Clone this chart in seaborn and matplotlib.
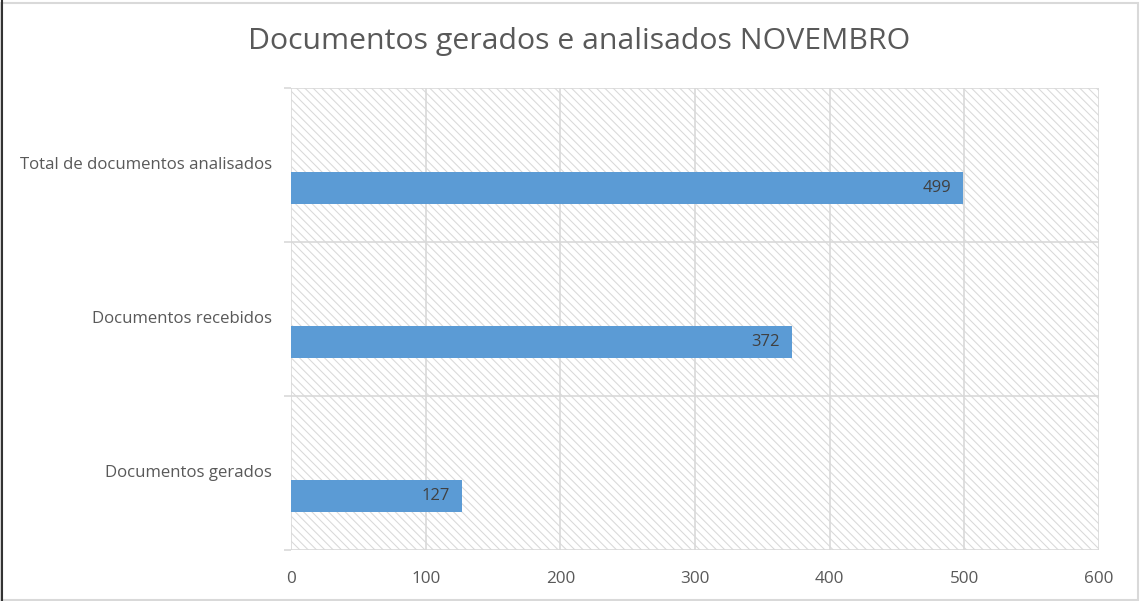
import matplotlib
matplotlib.use("Agg")
import matplotlib.pyplot as plt
import seaborn as sns
import pandas as pd
from matplotlib.patches import Rectangle
from matplotlib.lines import Line2D

categories = ["Total de documentos analisados", "Documentos recebidos", "Documentos gerados"]
values = [499, 372, 127]
xticks = [0, 100, 200, 300, 400, 500, 600]
title = "Documentos gerados e analisados NOVEMBRO"

sns.set_theme(style="white")
plt.rcParams['font.family'] = ['Open Sans', 'DejaVu Sans']
plt.rcParams['hatch.color'] = '#d9d9d9'
plt.rcParams['hatch.linewidth'] = 0.75

df = pd.DataFrame({"cat": categories, "val": values})

fig = plt.figure(figsize=(11.41, 6.01), dpi=100)
ax = fig.add_axes([291/1141, 1-550/601, (1099-291)/1141, (550-88)/601])

sns.barplot(data=df, y="cat", x="val", orient="h", color="#5B9BD5",
            width=0.21, saturation=1, ax=ax, zorder=3, edgecolor="none")

off = 0.15
ax.set_ylim(len(categories) - 1 - off + 0.5, -off - 0.5)
ax.set_xlim(0, 600)
ax.set_xticks(xticks)
ax.set_xticklabels([str(t) for t in xticks])
ax.set_yticks([i - off - 0.01 for i in range(len(categories))])
ax.set_yticklabels(categories)
ax.set_yticks([i - off + 0.5 for i in range(-1, len(categories))], minor=True)
ax.tick_params(axis='y', which='major', length=0, pad=13.5, labelsize=12.1, labelcolor='#595959')
ax.tick_params(axis='y', which='minor', length=5, width=1.2, color='#d9d9d9', left=True)
ax.tick_params(axis='x', length=0, pad=15, labelsize=12.3, labelcolor='#595959')
ax.set_xlabel("")
ax.set_ylabel("")

ax.grid(axis='x', color='#d9d9d9', lw=1.2, zorder=1)
ax.grid(axis='y', which='minor', color='#d9d9d9', lw=1.2, zorder=1)
ax.grid(axis='y', which='major', visible=False)
ax.set_axisbelow(True)
for s in ax.spines.values():
    s.set_visible(False)

ax.add_patch(Rectangle((0, 0), 1, 1, transform=ax.transAxes, hatch='\\\\\\\\',
                       fill=False, edgecolor='#d9d9d9', lw=0, zorder=0))

for p in ax.patches:
    if p.get_hatch():
        continue
    ax.annotate(f"{p.get_width():.0f}",
                xy=(p.get_x() + p.get_width(), p.get_y() + p.get_height() / 2),
                xytext=(-8.5, 0), textcoords='offset points', ha='right', va='center',
                fontsize=12, color='#404040', zorder=4)

fig.text(579/1141, 1-41/601, title, ha='center', va='center', fontsize=21.8, color='#595959')

fig.patches.append(Rectangle((0.001, 0.002), 0.996, 0.993, transform=fig.transFigure,
                             fill=False, edgecolor='#d9d9d9', lw=1.5))
fig.lines.append(Line2D([0.002, 0.002], [0, 1], transform=fig.transFigure, color='#333333', lw=1.5))

fig.savefig("out.png", dpi=100)
